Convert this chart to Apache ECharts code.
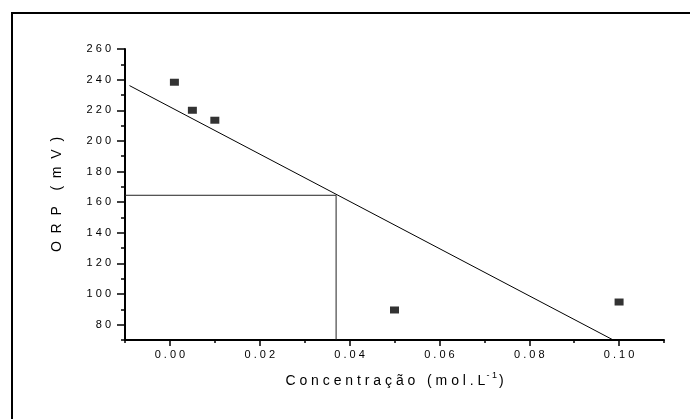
<!DOCTYPE html>
<html>
<head>
<meta charset="utf-8">
<script src="https://cdn.jsdelivr.net/npm/echarts@6/dist/echarts.min.js"></script>
<style>html,body{margin:0;padding:0;background:#fff;}#c{width:690px;height:419px;}</style>
</head>
<body>
<div id="c"></div>
<script>
// Data
const concentration = [0.001, 0.005, 0.01, 0.05, 0.10];
const orp = [238.3, 220, 213.5, 89.6, 94.8];
// fitted straight line, endpoints as drawn
const fitX = [-0.009, 0.0987];
const fitY = [236.1, 70];
// guide lines to the read-off point
const guideX = 0.037;
const guideY = 164.5;
// axes
const xMin = -0.01, xMax = 0.11;
const yMin = 70, yMax = 260;
const xTickLabels = [0, 0.02, 0.04, 0.06, 0.08, 0.10];
const yTickLabels = [80, 100, 120, 140, 160, 180, 200, 220, 240, 260];

const FONT = 'Liberation Sans, Arial, sans-serif';
const spread = (s, gap) => String(s).split('').join(gap || ' ');

const chart = echarts.init(document.getElementById('c'));
const gridGeom = {left: 125, right: 26, top: 49, bottom: 79, containLabel: false};
const axisLineStyle = {color: '#000', width: 2};
const labelStyle = {color: '#000', fontSize: 11, fontFamily: FONT};

chart.setOption({
  animation: false,
  backgroundColor: '#fff',
  graphic: [{
    type: 'rect', silent: true,
    shape: {x: 12, y: 13, width: 720, height: 440},
    style: {fill: 'none', stroke: '#000', lineWidth: 2}
  }],
  grid: [Object.assign({}, gridGeom), Object.assign({}, gridGeom)],
  xAxis: [{
    gridIndex: 0, type: 'value', min: xMin, max: xMax, position: 'bottom',
    axisLine: {show: true, onZero: false, lineStyle: axisLineStyle},
    axisTick: {show: true, customValues: xTickLabels, length: 6, lineStyle: {color: '#000', width: 1.5}},
    axisLabel: {customValues: xTickLabels, formatter: v => spread(v.toFixed(2)), margin: 9, ...labelStyle},
    splitLine: {show: false},
    name: '{n|' + spread('Concentração') + '   ' + spread('(mol.L') + '}{s|' + spread('-1') + '}{n|)}',
    nameLocation: 'middle', nameGap: 31,
    nameTextStyle: {
      fontFamily: FONT, color: '#000',
      rich: {
        n: {fontSize: 14, fontFamily: FONT, color: '#000', lineHeight: 17, verticalAlign: 'bottom'},
        s: {fontSize: 9, fontFamily: FONT, color: '#000', lineHeight: 17, verticalAlign: 'top', padding: [0, 2, 0, 1]}
      }
    }
  }, {
    gridIndex: 1, type: 'value', min: xMin, max: xMax, interval: 0.01, position: 'bottom',
    axisLine: {show: false, onZero: false},
    axisTick: {show: true, length: 3, lineStyle: {color: '#000', width: 1.5}},
    axisLabel: {show: false},
    splitLine: {show: false}
  }],
  yAxis: [{
    gridIndex: 0, type: 'value', min: yMin, max: yMax, position: 'left',
    axisLine: {show: true, onZero: false, lineStyle: axisLineStyle},
    axisTick: {show: true, customValues: yTickLabels, length: 8, lineStyle: {color: '#000', width: 1.5}},
    axisLabel: {customValues: yTickLabels, formatter: v => spread(v), margin: 14, ...labelStyle},
    splitLine: {show: false},
    name: spread('ORP', '  ') + '    ' + spread('(mV)', '  '),
    nameLocation: 'middle', nameGap: 61, nameRotate: 90,
    nameTextStyle: {fontSize: 14, fontFamily: FONT, color: '#000'}
  }, {
    gridIndex: 1, type: 'value', min: yMin, max: yMax, interval: 10, position: 'left',
    axisLine: {show: false, onZero: false},
    axisTick: {show: true, length: 4, lineStyle: {color: '#000', width: 1.5}},
    axisLabel: {show: false},
    splitLine: {show: false}
  }],
  series: [{
    type: 'line', xAxisIndex: 0, yAxisIndex: 0,
    data: fitX.map((x, i) => [x, fitY[i]]),
    symbol: 'none', lineStyle: {color: '#000', width: 1}, silent: true
  }, {
    type: 'line', xAxisIndex: 0, yAxisIndex: 0,
    data: [[xMin, guideY], [guideX, guideY], [guideX, yMin]],
    symbol: 'none', lineStyle: {color: '#222', width: 1}, silent: true
  }, {
    type: 'scatter', xAxisIndex: 0, yAxisIndex: 0,
    data: concentration.map((x, i) => [x, orp[i]]),
    symbol: 'rect', symbolSize: [9, 7],
    itemStyle: {color: '#000'}, silent: true
  }]
});
</script>
</body>
</html>
